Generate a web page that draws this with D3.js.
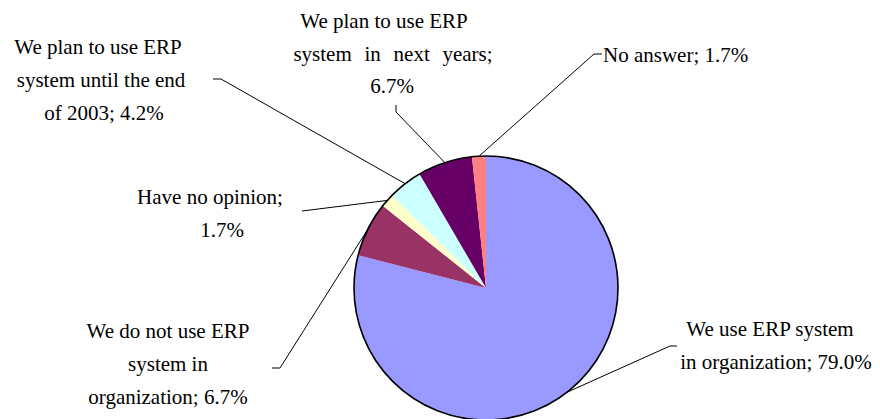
<!DOCTYPE html>
<html>
<head>
<meta charset="utf-8">
<script src="https://cdn.jsdelivr.net/npm/d3@7/dist/d3.min.js"></script>
<style>
  @font-face {
    font-family: "LabelSerif";
    src: local("Liberation Serif"), local("LiberationSerif"), local("LiberationSerif-Regular"),
         local("DejaVu Serif"), local("DejaVuSerif"), local("Noto Serif"), local("NotoSerif-Regular");
  }
  html, body { margin: 0; padding: 0; background: #fff; }
  svg { display: block; }
</style>
</head>
<body>
<svg id="chart" width="880" height="419"></svg>
<script>
// Survey answers about ERP use, clockwise from 12 o'clock
const categories = [
  "We use ERP system in organization",
  "We do not use ERP system in organization",
  "Have no opinion",
  "We plan to use ERP system until the end of 2003",
  "We plan to use ERP system in next years",
  "No answer"
];
const shares = [79.0, 6.7, 1.7, 4.2, 6.7, 1.7];
const sliceColors = ["#9999FF", "#993366", "#FFFFCC", "#CCFFFF", "#660066", "#FF8080"];
// number of words on each wrapped line of a label
const lineWords = [[4, 3], [5, 2, 2], [3, 1], [5, 4, 3], [5, 4, 1], [3]];

// label placement: text centre x, first baseline y, line step, leader elbow points (label side first)
const labelLayout = [
  { x: 776, y: 336, step: 33, lineDx: [-6, 0], leader: [[677, 346], [670, 346]] },
  { x: 168, y: 338, step: 33, leader: [[272, 368], [280, 368]] },
  { x: 210, y: 204, step: 33, lineDx: [0, 12], leader: [[302, 211]] },
  { x: 101, y: 54, step: 33, lineDx: [-3, 0, 3], leader: [[213, 79], [221, 79]] },
  { x: 391, y: 28, step: 32.5, lineDx: [-7, 2, 1], wordSpacing: [0, 7.5, 0], leader: [[396, 105], [396, 112]] },
  { x: 603, y: 62, step: 33, anchor: "start", leader: [[602, 54], [594, 54]] }
];

const FONT = "'Liberation Serif', LabelSerif, 'Times New Roman', Tinos, 'DejaVu Serif', 'Noto Serif', serif";

const cx = 486, cy = 288, r = 132;
const svg = d3.select("#chart");
const g = svg.append("g").attr("transform", `translate(${cx},${cy})`);

const pie = d3.pie().sort(null).value(d => d)(shares);
const arc = d3.arc().innerRadius(0).outerRadius(r);
const rim = d3.arc().innerRadius(r).outerRadius(r);

g.selectAll("path.slice")
  .data(pie)
  .join("path")
  .attr("class", "slice")
  .attr("d", arc)
  .attr("fill", (d, i) => sliceColors[i]);

g.append("circle")
  .attr("r", r)
  .attr("fill", "none")
  .attr("stroke", "#000")
  .attr("stroke-width", 1.6);

// leader lines
const line = d3.line();
pie.forEach((d, i) => {
  const [ax, ay] = rim.centroid(d);
  const pts = labelLayout[i].leader.concat([[ax + cx, ay + cy]]);
  svg.append("path")
    .attr("d", line(pts))
    .attr("fill", "none")
    .attr("stroke", "#000")
    .attr("stroke-width", 1);
});

// labels
categories.forEach((cat, i) => {
  const words = `${cat}; ${shares[i].toFixed(1)}%`.split(" ");
  const L = labelLayout[i];
  const t = svg.append("text")
    .attr("font-family", FONT)
    .attr("font-size", 21)
    .attr("fill", "#000")
    .attr("text-anchor", L.anchor || "middle");
  let k = 0;
  lineWords[i].forEach((n, j) => {
    const ts = t.append("tspan")
      .attr("x", L.x + (L.lineDx ? L.lineDx[j] : 0))
      .attr("y", L.y + j * L.step)
      .text(words.slice(k, k + n).join(" "));
    if (L.wordSpacing && L.wordSpacing[j]) ts.style("word-spacing", L.wordSpacing[j] + "px");
    k += n;
  });
});
</script>
</body>
</html>
